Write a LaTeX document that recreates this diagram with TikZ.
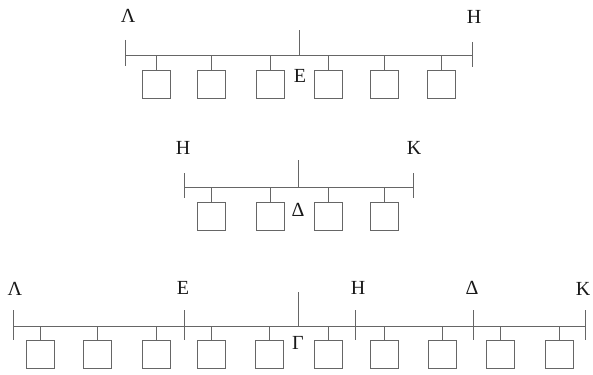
\documentclass[tikz,border=0pt]{standalone}
\usepackage{fontspec}
\setmainfont{Liberation Serif}
\usetikzlibrary{positioning}

\begin{document}
\begin{tikzpicture}[x=1pt,y=-1pt,font=\fontsize{20}{24}\selectfont,
  rule/.style={draw=black!60,line width=.8pt},
  cell/.style={draw=black!60,line width=.8pt,minimum size=28pt,inner sep=0pt},
  lbl/.style={inner sep=0pt,text=black!90}]
\useasboundingbox (0,0) rectangle (593,374);
% Top row: the whole ΛΗ, split at Ε into six parts.
\begin{scope}
  \coordinate (tL) at (125,55);
  \coordinate (tR) at (472,55);
  \coordinate (tM) at (299,55);
  \coordinate (tMtop) at (299,30);
  \draw[rule] (tL) -- (tR);
  \draw[rule] (tM) -- (tMtop);
  \draw[rule] ([yshift=15pt]tL) -- ([yshift=-11pt]tL);
  \draw[rule] ([yshift=13pt]tR) -- ([yshift=-12pt]tR);
  \foreach \x [count=\i] in {156,211,270,328,384,441} {
    \node[cell] (a\i) at (\x,84) {};
    \draw[rule] (a\i.north) -- (a\i.north |- tL);
  }
  \node[lbl] (tLam) at (128,16) {Λ};
  \node[lbl] (tEta) at (474,17) {Η};
  \node[lbl] (tEps) at (300,76) {Ε};
\end{scope}
% Middle row: ΗΚ, split at Δ into four parts.
\begin{scope}
  \coordinate (mL) at (184,187);
  \coordinate (mR) at (413,187);
  \coordinate (mM) at (298,187);
  \coordinate (mMtop) at (298,160);
  \draw[rule] (mL) -- (mR);
  \draw[rule] (mM) -- (mMtop);
  \draw[rule] ([yshift=14pt]mL) -- ([yshift=-11pt]mL);
  \draw[rule] ([yshift=14pt]mR) -- ([yshift=-11pt]mR);
  \foreach \x [count=\i] in {211,270,328,384} {
    \node[cell] (b\i) at (\x,216) {};
    \draw[rule] (b\i.north) -- (b\i.north |- mL);
  }
  \node[lbl] (mEta) at (183,148) {Η};
  \node[lbl] (mKap) at (414,148) {Κ};
  \node[lbl] (mDel) at (298,210) {Δ};
\end{scope}
% Bottom row: ΛΚ with the points Ε, Η, Δ, ten parts in all.
\begin{scope}
  \coordinate (bL) at (13,326);
  \coordinate (bE) at (184,326);
  \coordinate (bH) at (355,326);
  \coordinate (bD) at (473,326);
  \coordinate (bR) at (585,326);
  \coordinate (bM) at (298,326);
  \coordinate (bMtop) at (298,292);
  \draw[rule] (bL) -- (bR);
  \draw[rule] (bM) -- (bMtop);
  \foreach \p in {bL,bE,bH,bD,bR}
    \draw[rule] ([yshift=16pt]\p) -- ([yshift=-14pt]\p);
  \foreach \x [count=\i] in {40,97,156,211,269,328,384,442,500,559} {
    \node[cell] (c\i) at (\x,354) {};
    \draw[rule] (c\i.north) -- (c\i.north |- bL);
  }
  \node[lbl] (bLam) at (15,289) {Λ};
  \node[lbl] (bEps) at (183,288) {Ε};
  \node[lbl] (bEta) at (358,288) {Η};
  \node[lbl] (bDel) at (472,288) {Δ};
  \node[lbl] (bKap) at (583,289) {Κ};
  \node[lbl] (bGam) at (298,343) {Γ};
\end{scope}
\end{tikzpicture}
\end{document}
